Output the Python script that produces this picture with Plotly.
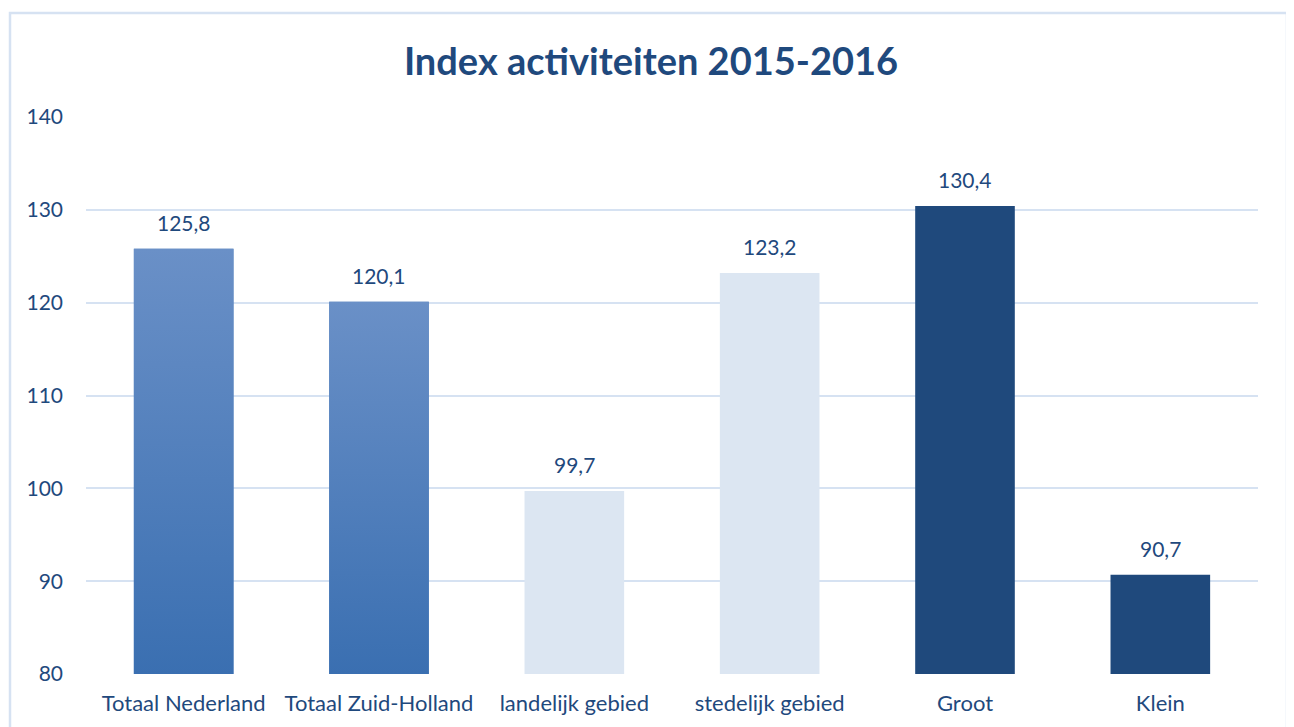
import plotly.graph_objects as go

categories = ["Totaal Nederland", "Totaal Zuid-Holland", "landelijk gebied",
              "stedelijk gebied", "Groot", "Klein"]
values = [125.8, 120.1, 99.7, 123.2, 130.4, 90.7]
y_ticks = [80, 90, 100, 110, 120, 130, 140]

styles = ["grad", "grad", "light", "light", "dark", "dark"]
solid = {"grad": "#5080BD", "light": "#DCE6F2", "dark": "#1F497C"}
text_color = "#1F497D"
font_family = "Lato, 'Open Sans', sans-serif"
bar_w = 0.51
base = 80

# page has an 8px body margin; work in figure coordinates = page - 8
W, H = 1286, 719
L, R_edge, T, B_edge = 78, 1250, 109, 666

xs = list(range(len(categories)))
fig = go.Figure()
fig.add_trace(go.Bar(
    x=xs, y=[v - base for v in values], base=base, width=bar_w,
    marker=dict(color=[solid[s] for s in styles], line=dict(width=0)),
    hoverinfo="skip", showlegend=False,
))
for i, (v, s) in enumerate(zip(values, styles)):
    if s != "grad":
        continue
    fig.add_trace(go.Scatter(
        x=[i - bar_w / 2, i + bar_w / 2, i + bar_w / 2, i - bar_w / 2, i - bar_w / 2],
        y=[base, base, v, v, base], mode="lines", line=dict(width=0),
        fill="toself",
        fillgradient=dict(type="vertical",
                          colorscale=[[0, "#3A6FB1"], [1, "#6A90C7"]]),
        hoverinfo="skip", showlegend=False,
    ))

for i, v in enumerate(values):
    fig.add_annotation(x=i, y=v, text=f"{v:.1f}".replace(".", ","),
                       showarrow=False, yanchor="bottom", yshift=12,
                       font=dict(size=21, color=text_color, family=font_family))

pw, ph = R_edge - L, B_edge - T
fig.add_shape(type="rect", xref="paper", yref="paper",
              x0=(2 - L) / pw, x1=(1279 - L) / pw,
              y0=(B_edge - 740) / ph, y1=(B_edge - 5) / ph,
              line=dict(color="#D6E2F2", width=2.5), layer="below")

fig.update_layout(
    width=W, height=H,
    margin=dict(l=L, r=W - R_edge, t=T, b=H - B_edge),
    paper_bgcolor="white", plot_bgcolor="white",
    title=dict(text="<b>Index activiteiten 2015-2016</b>", x=0.5, xanchor="center",
               y=1 - 54 / H, yanchor="middle",
               font=dict(size=38, color=text_color, family=font_family)),
    xaxis=dict(range=[-0.5, 5.5], tickvals=xs, ticktext=categories,
               showgrid=False, zeroline=False, showline=False, ticks="",
               ticklabelstandoff=14,
               tickfont=dict(size=22, color=text_color, family=font_family)),
    yaxis=dict(range=[80, 140], tickvals=y_ticks, showgrid=True,
               gridcolor="#D6E2F2", gridwidth=2, zeroline=False, showline=False,
               ticks="", ticklabelstandoff=22,
               tickfont=dict(size=21, color=text_color, family=font_family)),
)
fig.write_html("out.html")
